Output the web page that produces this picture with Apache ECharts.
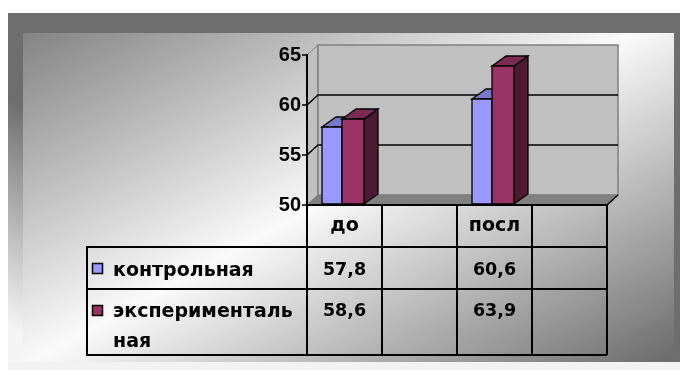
<!DOCTYPE html>
<html><head><meta charset="utf-8">
<script src="https://cdn.jsdelivr.net/npm/echarts@6/dist/echarts.min.js"></script>
<style>html,body{margin:0;padding:0;background:#fff}#c{width:680px;height:372px}</style>
</head><body><div id="c"></div>
<script>
// ---- data ----
const categories = ['до', '', 'посл', ''];
const seriesNames = ['контрольная', 'экспериментальная'];
const legendLabels = ['контрольная', 'эксперименталь\nная'];
const controlValues = [57.8, null, 60.6, null];
const experimentalValues = [58.6, null, 63.9, null];
const yMin = 50, yMax = 65, yInterval = 5;

// ---- style ----
const FONT = '"DejaVu Sans", "Liberation Sans", sans-serif';
const TICKFONT = '"Liberation Sans", Arial, sans-serif';
const FRONT = ['#9999ff', '#993366'];
const TOP = ['#7878cc', '#7b2a52'];
const SIDE = ['#5c5c99', '#4d1933'];
const BAR_OFF = [[-22.5, -2.5], [-2.5, 19.5]]; // px within a 75px band
const BDX = 14, BDY = -10;   // bar depth
const WDX = 11, WDY = -10;   // wall depth
const ROW = [42, 84, 150];   // table row bottoms below axis

function fmt(v) { return v.toFixed(1).replace('.', ','); }

function renderWalls(params, api) {
  const cs = params.coordSys;
  const x0 = cs.x, x1 = cs.x + cs.width, yT = cs.y, yB = cs.y + cs.height;
  const ch = [];
  ch.push({type: 'polygon', shape: {points: [[x0, yT], [x0 + WDX, yT + WDY], [x0 + WDX, yB + WDY], [x0, yB]]},
    style: {fill: '#c0c0c0', stroke: '#808080', lineWidth: 1}});
  ch.push({type: 'rect', shape: {x: x0 + WDX, y: yT + WDY, width: cs.width, height: cs.height},
    style: {fill: '#c0c0c0', stroke: '#808080', lineWidth: 1.5}});
  ch.push({type: 'polygon', shape: {points: [[x0, yB], [x0 + WDX, yB + WDY], [x1 + WDX, yB + WDY], [x1, yB]]},
    style: {fill: '#808080', stroke: '#808080', lineWidth: 1}});
  ch.push({type: 'line', shape: {x1: x1, y1: yB, x2: x1 + WDX, y2: yB + WDY}, style: {stroke: '#000', lineWidth: 1.5}});
  for (let v = yMin + yInterval; v < yMax; v += yInterval) {
    const y = api.coord([0, v])[1];
    ch.push({type: 'polyline', shape: {points: [[x0, y], [x0 + WDX, y + WDY], [x1 + WDX, y + WDY]]},
      style: {stroke: '#000', lineWidth: 1.5, fill: null}});
  }
  return {type: 'group', children: ch};
}

function makeBarRenderer(k) {
  return function (params, api) {
    const i = api.value(0), v = api.value(1);
    const base = api.coord([i, yMin]);
    const top = api.coord([i, v]);
    const bw = api.size([1, 0])[0];
    const s = bw / 75;
    const xl = base[0] + BAR_OFF[k][0] * s, xr = base[0] + BAR_OFF[k][1] * s;
    const yt = top[1], yb = base[1] - 1;
    const st = {stroke: '#000', lineWidth: 1.3, lineJoin: 'miter'};
    return {type: 'group', children: [
      {type: 'polygon', shape: {points: [[xr, yt], [xr + BDX, yt + BDY], [xr + BDX, yb + BDY], [xr, yb]]},
        style: Object.assign({fill: SIDE[k]}, st)},
      {type: 'polygon', shape: {points: [[xl, yt], [xl + BDX, yt + BDY], [xr + BDX, yt + BDY], [xr, yt]]},
        style: Object.assign({fill: TOP[k]}, st)},
      {type: 'rect', shape: {x: xl, y: yt, width: xr - xl, height: yb - yt},
        style: Object.assign({fill: FRONT[k]}, st)}
    ]};
  };
}

function renderTable(params, api) {
  const i = api.value(0);
  const c = api.coord([i, yMin]);
  const bw = api.size([1, 0])[0];
  const x0 = c[0] - bw / 2, x1 = c[0] + bw / 2, yB = c[1];
  const ln = {stroke: '#000', lineWidth: 2};
  const ch = [
    {type: 'line', shape: {x1: x1, y1: yB, x2: x1, y2: yB + ROW[2]}, style: ln},
    {type: 'line', shape: {x1: x0, y1: yB + ROW[0], x2: x1, y2: yB + ROW[0]}, style: ln},
    {type: 'line', shape: {x1: x0, y1: yB + ROW[1], x2: x1, y2: yB + ROW[1]}, style: ln},
    {type: 'line', shape: {x1: x0, y1: yB + ROW[2], x2: x1, y2: yB + ROW[2]}, style: ln}
  ];
  if (i === 0) ch.push({type: 'line', shape: {x1: x0, y1: yB, x2: x0, y2: yB + ROW[2]}, style: ln});
  const vals = [controlValues[i], experimentalValues[i]];
  const ys = [yB + 65, yB + 106];
  vals.forEach((v, k) => {
    if (v == null) return;
    ch.push({type: 'text', x: c[0], y: ys[k], style: {text: fmt(v), fill: '#000',
      font: 'bold 17.5px ' + FONT, align: 'center', verticalAlign: 'middle'}});
  });
  return {type: 'group', children: ch};
}

const chart = echarts.init(document.getElementById('c'), null, {renderer: 'canvas'});

const graphic = [
  {type: 'rect', z: -10, shape: {x: 8, y: 362, width: 672, height: 8}, style: {fill: '#f2f2f2'}},
  {type: 'rect', z: -10, shape: {x: 8, y: 13, width: 672, height: 349},
    style: {fill: new echarts.graphic.LinearGradient(15, 100, -86, 270,
      [{offset: 0, color: '#6e6e6e'}, {offset: 1, color: '#f4f4f4'}], true)}},
  {type: 'rect', z: -9, shape: {x: 23, y: 33, width: 651, height: 329},
    style: {fill: new echarts.graphic.LinearGradient(181, -73, 478, 471,
      [{offset: 0, color: '#7c7c7c'}, {offset: 0.5, color: '#fafafa'}, {offset: 1, color: '#6a6a6a'}], true)}},
  // legend column of the data table
  {type: 'rect', z: 10, shape: {x: 87, y: 247, width: 220, height: 108}, style: {fill: null, stroke: '#000', lineWidth: 2}},
  {type: 'line', z: 10, shape: {x1: 87, y1: 289, x2: 307, y2: 289}, style: {stroke: '#000', lineWidth: 2}},
  {type: 'rect', z: 10, shape: {x: 92.5, y: 263.5, width: 10, height: 10}, style: {fill: FRONT[0], stroke: '#000', lineWidth: 1.5}},
  {type: 'rect', z: 10, shape: {x: 92.5, y: 305.5, width: 10, height: 10}, style: {fill: FRONT[1], stroke: '#000', lineWidth: 1.5}},
  {type: 'text', z: 10, x: 113, y: 271, style: {text: legendLabels[0], font: 'bold 19px ' + FONT, fill: '#000', verticalAlign: 'middle'}},
  {type: 'text', z: 10, x: 113, y: 327, style: {text: legendLabels[1], font: 'bold 19px ' + FONT, fill: '#000', verticalAlign: 'middle', lineHeight: 30}}
];

chart.setOption({
  animation: false,
  backgroundColor: '#fff',
  graphic: graphic,
  grid: {left: 307, right: 73, top: 55, bottom: 167},
  xAxis: {
    type: 'category', data: categories, z: 6,
    axisLine: {lineStyle: {color: '#000', width: 2}},
    axisTick: {show: false},
    axisLabel: {color: '#000', fontFamily: FONT, fontWeight: 'bold', fontSize: 19, margin: 12, interval: 0},
    splitLine: {show: false}
  },
  yAxis: {
    type: 'value', min: yMin, max: yMax, interval: yInterval, z: 6,
    axisLine: {show: true, lineStyle: {color: '#000', width: 2}},
    axisTick: {show: true, length: 5, lineStyle: {color: '#000', width: 1.5}},
    axisLabel: {color: '#000', fontFamily: TICKFONT, fontWeight: 'bold', fontSize: 20, margin: 6},
    splitLine: {show: false}
  },
  series: [
    {type: 'custom', name: 'walls', z: 1, silent: true, clip: false, renderItem: renderWalls, data: [[0]]},
    {type: 'custom', name: seriesNames[0], z: 3, clip: false, renderItem: makeBarRenderer(0),
      data: controlValues.map((v, i) => v == null ? null : [i, v]).filter(Boolean)},
    {type: 'custom', name: seriesNames[1], z: 4, clip: false, renderItem: makeBarRenderer(1),
      data: experimentalValues.map((v, i) => v == null ? null : [i, v]).filter(Boolean)},
    {type: 'custom', name: 'table', z: 7, clip: false, silent: true, renderItem: renderTable,
      data: categories.map((c, i) => [i])}
  ]
});
</script></body></html>
